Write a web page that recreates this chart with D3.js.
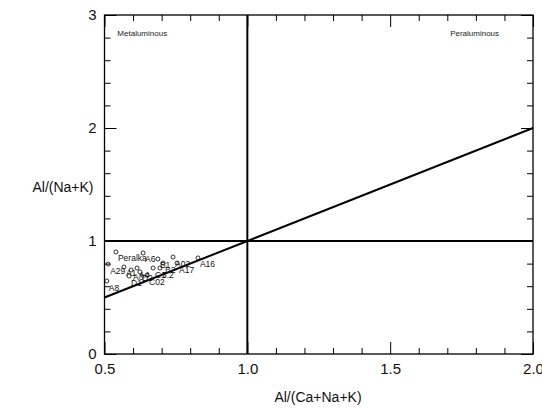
<!DOCTYPE html>
<html>
<head>
<meta charset="utf-8">
<script src="https://cdn.jsdelivr.net/npm/d3@7"></script>
<style>
  html, body { margin: 0; padding: 0; background: #fff; }
  svg { display: block; font-family: Arial, "Liberation Sans", sans-serif; }
  .axis path { display: none; }
  .axis line { stroke: #000; stroke-width: 1; }
  .axis text { font-size: 15px; fill: #111; }
</style>
</head>
<body>
<svg id="chart" width="542" height="409"></svg>
<script>
// Sample compositions: A/CNK (x) and A/NK (y)
const sampleNames = ["Peralka", "A6", "A29", "A8", "A1", "A3", "A4", "D1", "D2", "C02",
                     "C1", "B1", "B2", "A02", "A17", "A16", "5.2"];
const acnk = [0.540, 0.635, 0.513, 0.508, 0.568, 0.593, 0.614, 0.586, 0.624, 0.649,
              0.670, 0.687, 0.705, 0.740, 0.754, 0.827, 0.694];
const ank  = [0.903, 0.894, 0.796, 0.646, 0.770, 0.743, 0.761, 0.690, 0.726, 0.699,
              0.761, 0.841, 0.805, 0.858, 0.805, 0.850, 0.761];

// Axis ticks
const xMajor = [0.5, 1.0, 1.5, 2.0];
const xMinor = [0.6, 0.7, 0.8, 0.9, 1.1, 1.2, 1.3, 1.4, 1.6, 1.7, 1.8, 1.9];
const yMajor = [0, 1, 2, 3];
const yMinor = [0.2, 0.4, 0.6, 0.8, 1.2, 1.4, 1.6, 1.8, 2.2, 2.4, 2.6, 2.8];

// Field boundaries
const boundaryX = 1.0;   // A/CNK = 1
const boundaryY = 1.0;   // A/NK = 1
const domainX = [0.5, 2.0];
const domainY = [0, 3];

const margin = { left: 104.5, right: 9, top: 15, bottom: 55 };
const W = 542, H = 409;
const svg = d3.select("#chart");

const x = d3.scaleLinear().domain(domainX).range([margin.left, W - margin.right]);
const y = d3.scaleLinear().domain(domainY).range([H - margin.bottom, margin.top]);

const x0 = x.range()[0], x1 = x.range()[1];
const y0 = y.range()[0], y1 = y.range()[1];

// Ticks on all four sides, pointing inwards
svg.append("g").attr("class", "axis").attr("transform", `translate(0,${y0})`)
  .call(d3.axisBottom(x).tickValues(xMinor).tickSize(-6).tickFormat(""));
svg.append("g").attr("class", "axis").attr("transform", `translate(0,${y0})`)
  .call(d3.axisBottom(x).tickValues(xMajor).tickSize(-12).tickPadding(9).tickFormat(d3.format(".1f")));
svg.append("g").attr("class", "axis").attr("transform", `translate(0,${y1})`)
  .call(d3.axisTop(x).tickValues(xMinor).tickSize(-6).tickFormat(""));
svg.append("g").attr("class", "axis").attr("transform", `translate(0,${y1})`)
  .call(d3.axisTop(x).tickValues(xMajor).tickSize(-12).tickFormat(""));

svg.append("g").attr("class", "axis").attr("transform", `translate(${x0},0)`)
  .call(d3.axisLeft(y).tickValues(yMinor).tickSize(-6).tickFormat(""));
svg.append("g").attr("class", "axis").attr("transform", `translate(${x0},0)`)
  .call(d3.axisLeft(y).tickValues(yMajor).tickSize(-12).tickPadding(8).tickFormat(d3.format("d")));
svg.append("g").attr("class", "axis").attr("transform", `translate(${x1},0)`)
  .call(d3.axisRight(y).tickValues(yMinor).tickSize(-6).tickFormat(""));
svg.append("g").attr("class", "axis").attr("transform", `translate(${x1},0)`)
  .call(d3.axisRight(y).tickValues(yMajor).tickSize(-12).tickFormat(""));

// Frame
svg.append("rect")
  .attr("x", x0).attr("y", y1).attr("width", x1 - x0).attr("height", y0 - y1)
  .attr("fill", "none").attr("stroke", "#000").attr("stroke-width", 1.3);

// Boundary lines
const lines = svg.append("g").attr("stroke", "#000").attr("stroke-width", 2);
lines.append("line").attr("x1", x(boundaryX)).attr("x2", x(boundaryX)).attr("y1", y(domainY[0])).attr("y2", y(domainY[1]));
lines.append("line").attr("x1", x(domainX[0])).attr("x2", x(domainX[1])).attr("y1", y(boundaryY)).attr("y2", y(boundaryY));
lines.append("line").attr("x1", x(domainX[0])).attr("y1", y(domainX[0])).attr("x2", x(domainX[1])).attr("y2", y(domainX[1]));

// Field names
svg.append("text").attr("x", x(0.545)).attr("y", y(2.81)).attr("font-size", 8).attr("fill", "#222").text("Metaluminous");
svg.append("text").attr("x", x(1.71)).attr("y", y(2.81)).attr("font-size", 8).attr("fill", "#222").text("Peraluminous");

// Axis titles
svg.append("text").attr("x", 318).attr("y", 402).attr("text-anchor", "middle")
  .attr("font-size", 14).attr("fill", "#111").text("Al/(Ca+Na+K)");
svg.append("text").attr("x", 63).attr("y", 192).attr("text-anchor", "middle")
  .attr("font-size", 14).attr("fill", "#111").text("Al/(Na+K)");

// Samples
const pts = svg.append("g");
sampleNames.forEach((name, i) => {
  const cx = x(acnk[i]), cy = y(ank[i]);
  pts.append("circle").attr("cx", cx).attr("cy", cy).attr("r", 2)
    .attr("fill", "none").attr("stroke", "#000").attr("stroke-width", 0.8);
  pts.append("text").attr("x", cx + 2).attr("y", cy + 9.5)
    .attr("font-size", 8.5).attr("fill", "#111").text(name);
});
</script>
</body>
</html>
